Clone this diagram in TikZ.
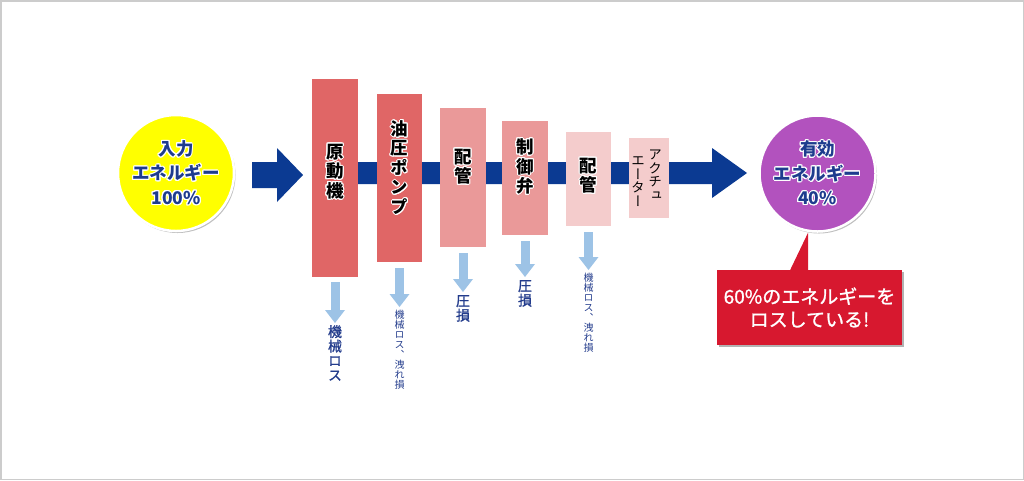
\documentclass[tikz,border=0pt]{standalone}
\usepackage{fontspec}
\setmainfont{Noto Sans CJK JP}
\newfontfamily\vjp{Noto Sans CJK JP}[RawFeature=+vert]
\newfontfamily\vjpm{Noto Sans CJK JP}[RawFeature=+vert, FakeBold=1.2]
\newfontfamily\jpm{Noto Sans CJK JP}[FakeBold=1.2]
\usepackage[copies]{contour}
\contourlength{1pt}
\contournumber{16}
\usetikzlibrary{arrows.meta,shadows,calc}
\definecolor{mynavy}{HTML}{0B3A92}
\definecolor{txtnavy}{HTML}{1E3C8E}
\definecolor{lblue}{HTML}{233C8C}
\definecolor{dblue}{HTML}{9DC3E6}
\definecolor{rA}{HTML}{E06666}
\definecolor{rB}{HTML}{EA9999}
\definecolor{rC}{HTML}{F4CCCC}
\definecolor{cyel}{HTML}{FFFF00}
\definecolor{cpur}{HTML}{B252BE}
\definecolor{cred}{HTML}{D7182F}
\newcommand\cw[1]{\contour{white}{#1}}
\tikzset{
  box/.style={rectangle, inner sep=0pt, draw=none},
  vt/.style={font=\vjp\bfseries\fontsize{17.5pt}{19.5pt}\selectfont, align=center, inner sep=0pt, text=black},
  vts/.style={font=\vjp\fontsize{13.5pt}{13.5pt}\selectfont, align=center, inner sep=0pt, text=black},
  circ/.style={circle, draw=white, line width=2.5pt, inner sep=0pt, minimum size=116pt,
    drop shadow={shadow xshift=1.5pt, shadow yshift=-2pt, opacity=0.25, fill=black},
    font=\bfseries\fontsize{17.5pt}{24.5pt}\selectfont, text=txtnavy, align=center},
  lbl/.style={font=\vjpm\fontsize{14pt}{14.5pt}\selectfont, text=lblue, align=center, inner sep=0pt, anchor=north},
  lbls/.style={font=\vjp\fontsize{10pt}{10pt}\selectfont, text=lblue, align=center, inner sep=0pt, anchor=north},
  darr/.style={draw=dblue, line width=9pt, -{Triangle[width=20pt,length=13pt,line width=0pt]}, shorten <=6pt, shorten >=3pt},
}
\begin{document}
\begin{tikzpicture}[x=1pt,y=-1pt]
\useasboundingbox (0,0) rectangle (1024,480);
\draw[gray!40, line width=1.5pt] (0.75,0.75) rectangle (1023.25,479.25);
% main band arrow
\fill[mynavy] (330,162) -- (712,162) -- (712,148) -- (747,173) -- (712,198) -- (712,184) -- (330,184) -- cycle;
% left arrow
\fill[mynavy] (252,162) -- (277,162) -- (277,148) -- (303,175) -- (277,202) -- (277,188) -- (252,188) -- cycle;
% boxes
\node[box, fill=rA, minimum width=46pt, minimum height=198pt] (b1) at (335,178) {};
\node[box, fill=rA, minimum width=45pt, minimum height=168pt] (b2) at (399.5,178) {};
\node[box, fill=rB, minimum width=46pt, minimum height=139pt] (b3) at (463,177.5) {};
\node[box, fill=rB, minimum width=46pt, minimum height=114pt] (b4) at (525,178) {};
\node[box, fill=rC, minimum width=45pt, minimum height=94pt] (b5) at (588.5,179) {};
\node[box, fill=rC, minimum width=40pt, minimum height=80pt] (b6) at (649,178) {};
% box texts
\node[vt] (t1) at (335,172) {\cw{原}\\\cw{動}\\\cw{機}};
\node[vt] (t2) at (399.5,168) {\cw{油}\\\cw{圧}\\\cw{ポ}\\\cw{ン}\\\cw{プ}};
\node[vt] (t3) at (463,167) {\cw{配}\\\cw{管}};
\node[vt] (t4) at (525,167) {\cw{制}\\\cw{御}\\\cw{弁}};
\node[vt] (t5) at (588.5,176) {\cw{配}\\\cw{管}};
\node[vts] (t6a) at (655,175) {ア\\ク\\チ\\ュ};
\node[vts] (t6b) at (638,181.5) {エ\\ー\\タ\\ー};
% loss labels
\node[lbl] (l1) at (335,325) {機\\械\\ロ\\ス};
\node[lbls] (l2) at (399.5,310) {機\\械\\ロ\\ス\\、\\洩\\れ\\損};
\node[lbl] (l3) at (463,295) {圧\\損};
\node[lbl] (l4) at (525,280) {圧\\損};
\node[lbls] (l5) at (588.5,273) {機\\械\\ロ\\ス\\、\\洩\\れ\\損};
\draw[darr, shorten <=5pt, shorten >=2pt] (b1.south) -- (l1.north);
\draw[darr] (b2.south) -- (l2.north);
\draw[darr] (b3.south) -- (l3.north);
\draw[darr] (b4.south) -- (l4.north);
\draw[darr] (b5.south) -- (l5.north);
% callout
\node[fill=cred, minimum width=185pt, minimum height=75pt, inner sep=0pt,
  drop shadow={shadow xshift=2pt, shadow yshift=-2pt, opacity=0.3, fill=black},
  font=\jpm\fontsize{19pt}{23pt}\selectfont, text=white, align=center] (co) at (809.5,307.5)
  {60\%のエネルギーを\\ロスしている!};
\fill[cred] ($(co.north)+(-19.5,0.5)$) -- ($(co.north)+(-1.5,-37)$) -- ($(co.north)+(-1.5,0.5)$) -- cycle;
% circles
\node[circ, fill=cyel] (c1) at (176,173) {\cw{入力}\\\cw{エネルギー}\\\cw{100\%}};
\node[circ, fill=cpur] (c2) at (817.5,173.5) {\cw{有効}\\\cw{エネルギー}\\\cw{40\%}};
\end{tikzpicture}
\end{document}
